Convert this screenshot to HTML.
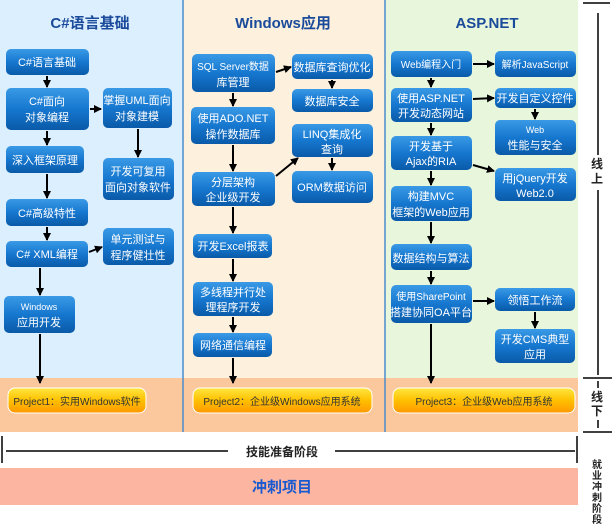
<!DOCTYPE html>
<html><head><meta charset="utf-8"><style>
body{margin:0;width:615px;height:525px;overflow:hidden;background:#fff;font-family:"Liberation Sans","Noto Sans CJK SC",sans-serif}
svg text{font-family:"Liberation Sans","Noto Sans CJK SC",sans-serif}
</style></head><body>
<svg width="615" height="525" viewBox="0 0 615 525" xmlns="http://www.w3.org/2000/svg">
<defs>
<linearGradient id="b" x1="0" y1="0" x2="0" y2="1"><stop offset="0" stop-color="#3a9ae6"/><stop offset="0.5" stop-color="#1677cf"/><stop offset="1" stop-color="#0a5aa8"/></linearGradient>
<linearGradient id="y" x1="0" y1="0" x2="0" y2="1"><stop offset="0" stop-color="#ffe640"/><stop offset="0.5" stop-color="#ffc000"/><stop offset="1" stop-color="#ff9800"/></linearGradient>
<marker id="a" markerWidth="8" markerHeight="8" refX="7" refY="4" orient="auto" markerUnits="userSpaceOnUse"><path d="M0,0 L8,4 L0,8 z" fill="#000"/></marker>
</defs>
<rect x="0" y="0" width="183" height="378" fill="#dcefff"/>
<rect x="183" y="0" width="202" height="378" fill="#fdf0dc"/>
<rect x="385" y="0" width="193" height="378" fill="#e8f7dc"/>
<rect x="0" y="378" width="578" height="54" fill="#fbc79c"/>
<line x1="183" y1="0" x2="183" y2="432" stroke="#4a8ccc" stroke-width="1.5"/>
<line x1="385" y1="0" x2="385" y2="432" stroke="#4a8ccc" stroke-width="1.5"/>
<g font-weight="bold" font-size="15" fill="#1a4a9a" text-anchor="middle">
<text x="90" y="28">C#语言基础</text><text x="283" y="28">Windows应用</text><text x="487" y="28">ASP.NET</text>
</g>
<g fill="url(#b)">
<rect x="6" y="49" width="83" height="26" rx="5"/>
<rect x="6" y="88" width="83" height="42" rx="5"/>
<rect x="103" y="88" width="69" height="40" rx="5"/>
<rect x="6" y="146" width="78" height="27" rx="5"/>
<rect x="103" y="158" width="71" height="42" rx="5"/>
<rect x="6" y="199" width="82" height="27" rx="5"/>
<rect x="6" y="241" width="82" height="26" rx="5"/>
<rect x="103" y="228" width="71" height="37" rx="5"/>
<rect x="4" y="296" width="71" height="37" rx="5"/>
<rect x="192" y="54" width="83" height="38" rx="5"/>
<rect x="191" y="107" width="84" height="37" rx="5"/>
<rect x="192" y="172" width="83" height="34" rx="5"/>
<rect x="193" y="234" width="79" height="24" rx="5"/>
<rect x="193" y="282" width="80" height="34" rx="5"/>
<rect x="193" y="333" width="79" height="24" rx="5"/>
<rect x="292" y="54" width="81" height="25" rx="5"/>
<rect x="292" y="89" width="81" height="23" rx="5"/>
<rect x="292" y="124" width="81" height="33" rx="5"/>
<rect x="292" y="171" width="81" height="32" rx="5"/>
<rect x="391" y="51" width="81" height="26" rx="5"/>
<rect x="495" y="51" width="81" height="26" rx="5"/>
<rect x="391" y="88" width="81" height="34" rx="5"/>
<rect x="495" y="88" width="81" height="20" rx="5"/>
<rect x="495" y="120" width="81" height="35" rx="5"/>
<rect x="391" y="136" width="81" height="34" rx="5"/>
<rect x="495" y="168" width="81" height="33" rx="5"/>
<rect x="391" y="186" width="81" height="35" rx="5"/>
<rect x="391" y="244" width="81" height="26" rx="5"/>
<rect x="391" y="285" width="81" height="38" rx="5"/>
<rect x="495" y="288" width="80" height="23" rx="5"/>
<rect x="495" y="329" width="80" height="34" rx="5"/>
</g>
<g fill="url(#y)" stroke="#fff" stroke-width="1">
<rect x="8" y="388" width="138" height="25" rx="7"/>
<rect x="193" y="388" width="179" height="25" rx="7"/>
<rect x="393" y="388" width="182" height="25" rx="7"/>
</g>
<g fill="#fff" font-size="11" text-anchor="middle">
<text x="47" y="66">C#语言基础</text>
<text x="47" y="105">C#面向</text><text x="47" y="121">对象编程</text>
<text x="137" y="104">掌握UML面向</text><text x="137" y="120">对象建模</text>
<text x="45" y="164">深入框架原理</text>
<text x="138" y="175">开发可复用</text><text x="138" y="191">面向对象软件</text>
<text x="47" y="217">C#高级特性</text>
<text x="47" y="258">C# XML编程</text>
<text x="138" y="243">单元测试与</text><text x="138" y="259">程序健壮性</text>
<text x="39" y="310" font-size="9">Windows</text><text x="39" y="326">应用开发</text>
<text x="233" y="70" font-size="10">SQL Server数据</text><text x="233" y="86">库管理</text>
<text x="233" y="122">使用ADO.NET</text><text x="233" y="138">操作数据库</text>
<text x="233" y="186">分层架构</text><text x="233" y="201">企业级开发</text>
<text x="233" y="250">开发Excel报表</text>
<text x="233" y="296">多线程并行处</text><text x="233" y="311">理程序开发</text>
<text x="233" y="349">网络通信编程</text>
<text x="332" y="71">数据库查询优化</text>
<text x="332" y="105">数据库安全</text>
<text x="332" y="138">LINQ集成化</text><text x="332" y="153">查询</text>
<text x="332" y="191">ORM数据访问</text>
<text x="431" y="68" font-size="10">Web编程入门</text>
<text x="535" y="68" font-size="10">解析JavaScript</text>
<text x="431" y="102">使用ASP.NET</text><text x="431" y="117">开发动态网站</text>
<text x="535" y="102">开发自定义控件</text>
<text x="535" y="133" font-size="9">Web</text><text x="535" y="149">性能与安全</text>
<text x="431" y="150">开发基于</text><text x="431" y="165">Ajax的RIA</text>
<text x="535" y="182">用jQuery开发</text><text x="535" y="197">Web2.0</text>
<text x="431" y="200">构建MVC</text><text x="431" y="216">框架的Web应用</text>
<text x="431" y="262">数据结构与算法</text>
<text x="431" y="300" font-size="10">使用SharePoint</text><text x="431" y="316">搭建协同OA平台</text>
<text x="535" y="304">领悟工作流</text>
<text x="535" y="343">开发CMS典型</text><text x="535" y="358">应用</text>
</g>
<g fill="#333" font-size="10" text-anchor="middle">
<text x="77" y="405">Project1：实用Windows软件</text>
<text x="282" y="405">Project2：企业级Windows应用系统</text>
<text x="484" y="405">Project3：企业级Web应用系统</text>
</g>
<g stroke="#000" stroke-width="2" marker-end="url(#a)">
<line x1="47" y1="76" x2="47" y2="87"/>
<line x1="90" y1="109" x2="101" y2="109"/>
<line x1="47" y1="131" x2="47" y2="145"/>
<line x1="138" y1="129" x2="138" y2="157"/>
<line x1="47" y1="174" x2="47" y2="198"/>
<line x1="47" y1="227" x2="47" y2="240"/>
<line x1="89" y1="252" x2="102" y2="247"/>
<line x1="40" y1="268" x2="40" y2="295"/>
<line x1="40" y1="334" x2="40" y2="383"/>
<line x1="276" y1="72" x2="291" y2="67"/>
<line x1="233" y1="93" x2="233" y2="106"/>
<line x1="233" y1="145" x2="233" y2="171"/>
<line x1="276" y1="176" x2="298" y2="158"/>
<line x1="233" y1="207" x2="233" y2="233"/>
<line x1="233" y1="259" x2="233" y2="281"/>
<line x1="233" y1="317" x2="233" y2="332"/>
<line x1="233" y1="358" x2="233" y2="383"/>
<line x1="332" y1="80" x2="332" y2="88"/>
<line x1="332" y1="158" x2="332" y2="170"/>
<line x1="473" y1="64" x2="494" y2="64"/>
<line x1="431" y1="78" x2="431" y2="87"/>
<line x1="473" y1="99" x2="494" y2="98"/>
<line x1="535" y1="109" x2="535" y2="119"/>
<line x1="431" y1="123" x2="431" y2="135"/>
<line x1="473" y1="165" x2="494" y2="171"/>
<line x1="431" y1="171" x2="431" y2="185"/>
<line x1="431" y1="222" x2="431" y2="243"/>
<line x1="431" y1="271" x2="431" y2="284"/>
<line x1="473" y1="301" x2="494" y2="301"/>
<line x1="535" y1="312" x2="535" y2="328"/>
<line x1="431" y1="324" x2="431" y2="383"/>
</g>
<g stroke="#000" stroke-width="1.5" fill="none">
<line x1="583" y1="3" x2="610" y2="3"/>
<line x1="598" y1="13" x2="598" y2="155"/>
<line x1="598" y1="190" x2="598" y2="375"/>
<line x1="583" y1="378" x2="612" y2="378"/>
<line x1="598" y1="381" x2="598" y2="388"/>
<line x1="598" y1="420" x2="598" y2="428"/>
<line x1="583" y1="432" x2="612" y2="432"/>
<line x1="2" y1="436" x2="2" y2="463"/>
<line x1="577" y1="436" x2="577" y2="463"/>
<line x1="6" y1="451" x2="228" y2="451"/>
<line x1="335" y1="451" x2="575" y2="451"/>
</g>
<g font-weight="bold" font-size="12" fill="#222" text-anchor="middle">
<text x="597" y="168">线</text><text x="597" y="183">上</text>
<text x="597" y="401">线</text><text x="597" y="415">下</text>
<text x="282" y="456">技能准备阶段</text>
</g>
<rect x="0" y="468" width="578" height="37" fill="#fbb5a0"/>
<text x="282" y="492" font-weight="bold" font-size="15" fill="#1a5ad0" text-anchor="middle">冲刺项目</text>
<g font-weight="bold" font-size="10" fill="#222" text-anchor="middle">
<text x="597" y="468">就</text><text x="597" y="479">业</text><text x="597" y="490">冲</text><text x="597" y="501">刺</text><text x="597" y="512">阶</text><text x="597" y="523">段</text>
</g>
</svg>
</body></html>
